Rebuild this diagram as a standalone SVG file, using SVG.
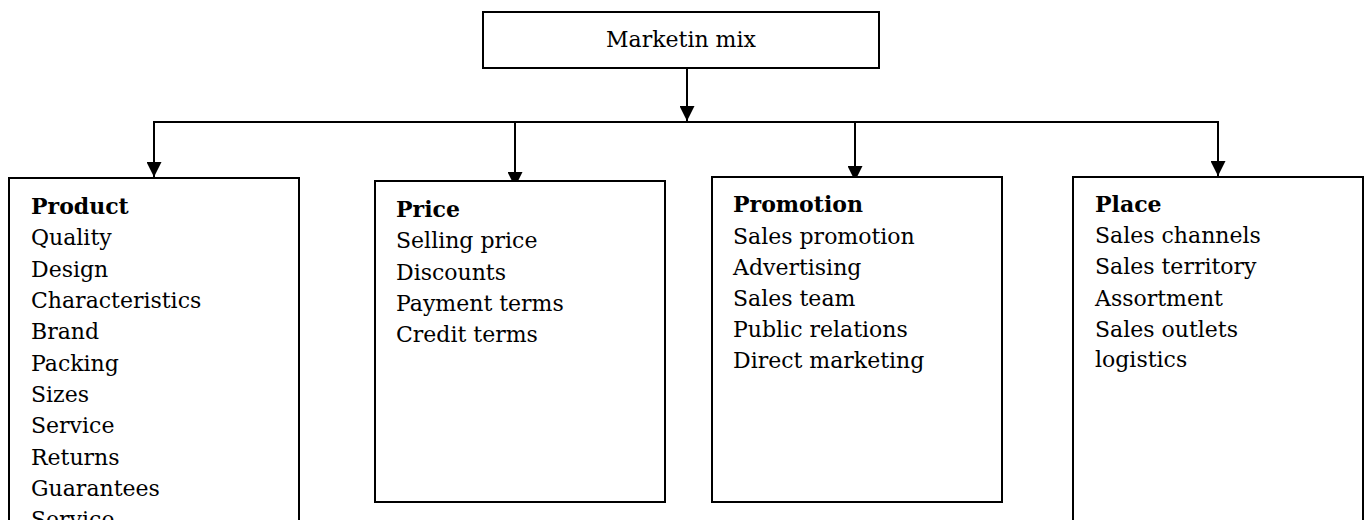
<svg xmlns="http://www.w3.org/2000/svg" width="1366" height="520" viewBox="0 0 1366 520">
<style>
.box{fill:#fff;stroke:#000;stroke-width:2}
.conn{fill:none;stroke:#000;stroke-width:2}
text{font-family:"DejaVu Serif","Liberation Serif",serif;font-size:22px;fill:#000}
.h{font-weight:bold}
</style>
<defs>
<marker id="arr" markerUnits="userSpaceOnUse" markerWidth="15" markerHeight="15" refX="15" refY="7.5" orient="auto">
<path d="M0,0 L15,7.5 L0,15 z" fill="#000"/>
</marker>
</defs>
<rect width="1366" height="520" fill="#fff"/>
<g id="connectors">
<line class="conn" x1="687" y1="68" x2="687" y2="121" marker-end="url(#arr)"/>
<line class="conn" x1="153" y1="122" x2="1219" y2="122"/>
<line class="conn" x1="154" y1="122" x2="154" y2="177" marker-end="url(#arr)"/>
<line class="conn" x1="515" y1="122" x2="515" y2="187" marker-end="url(#arr)"/>
<line class="conn" x1="855" y1="122" x2="855" y2="181" marker-end="url(#arr)"/>
<line class="conn" x1="1218" y1="122" x2="1218" y2="176" marker-end="url(#arr)"/>
</g>
<g id="root">
<rect class="box" x="483" y="12" width="396" height="56"/>
<text x="681" y="47" text-anchor="middle">Marketin mix</text>
</g>
<g id="product">
<rect class="box" x="9" y="178" width="290" height="360"/>
<text x="31" y="214" class="h">Product</text>
<text x="31" y="245">Quality</text>
<text x="31" y="277">Design</text>
<text x="31" y="308">Characteristics</text>
<text x="31" y="339">Brand</text>
<text x="31" y="371">Packing</text>
<text x="31" y="402">Sizes</text>
<text x="31" y="433">Service</text>
<text x="31" y="465">Returns</text>
<text x="31" y="496">Guarantees</text>
<text x="31" y="527">Service</text>
</g>
<g id="price">
<rect class="box" x="375" y="181" width="290" height="321"/>
<text x="396" y="217" class="h">Price</text>
<text x="396" y="248">Selling price</text>
<text x="396" y="280">Discounts</text>
<text x="396" y="311">Payment terms</text>
<text x="396" y="342">Credit terms</text>
</g>
<g id="promotion">
<rect class="box" x="712" y="177" width="290" height="325"/>
<text x="733" y="212" class="h">Promotion</text>
<text x="733" y="244">Sales promotion</text>
<text x="733" y="275">Advertising</text>
<text x="733" y="306">Sales team</text>
<text x="733" y="337">Public relations</text>
<text x="733" y="368">Direct marketing</text>
</g>
<g id="place">
<rect class="box" x="1073" y="177" width="290" height="360"/>
<text x="1095" y="212" class="h">Place</text>
<text x="1095" y="243">Sales channels</text>
<text x="1095" y="274">Sales territory</text>
<text x="1095" y="306">Assortment</text>
<text x="1095" y="337">Sales outlets</text>
<text x="1095" y="367">logistics</text>
</g>
</svg>
